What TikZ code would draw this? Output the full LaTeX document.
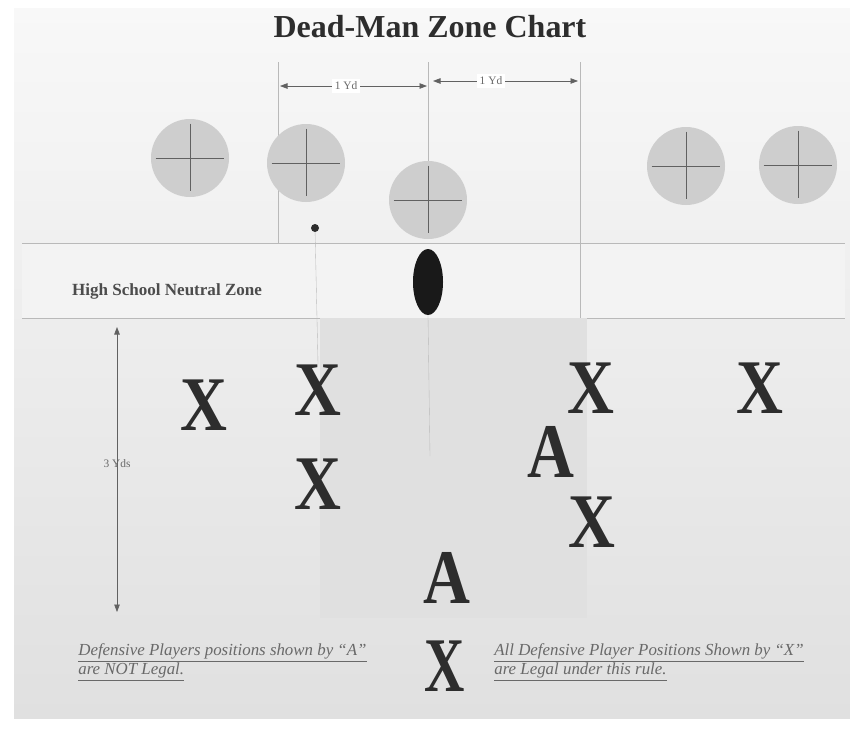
\documentclass[tikz,border=0pt]{standalone}
\usepackage{fontspec}
\setmainfont{Liberation Serif}
\usepackage{tikz}
\usetikzlibrary{arrows.meta,positioning,shapes.geometric}
\definecolor{dmtop}{RGB}{248,248,248}
\definecolor{dmbottom}{RGB}{224,224,224}
\definecolor{dmband}{RGB}{243,243,243}
\definecolor{dmzone}{RGB}{224,224,224}
\definecolor{dmcircle}{RGB}{206,206,206}
\definecolor{dmline}{RGB}{185,185,185}
\definecolor{dmink}{RGB}{45,45,45}
\definecolor{dmtext}{RGB}{105,105,105}

\tikzset{
  offman/.style={circle, fill=dmcircle, minimum size=15.6mm, inner sep=0pt},
  defx/.style={font=\fontsize{44}{44}\selectfont\bfseries, text=dmink, inner sep=0pt, xscale=0.84},
  dimarrow/.style={dmink!75, thin, {Triangle[length=1.5mm,width=1.1mm]}-{Triangle[length=1.5mm,width=1.1mm]}},
  dimlabel/.style={font=\fontsize{6.5}{7}\selectfont, text=dmtext, fill=white, inner sep=1.5pt},
  guide/.style={dmline, very thin},
  note/.style={font=\fontsize{9.6}{11}\selectfont\itshape, text=dmtext, align=left, anchor=north west, inner sep=0pt},
}

\begin{document}
\begin{tikzpicture}[x=0.2mm, y=-0.2mm]
  \useasboundingbox (0,0) rectangle (850,734);
  % Screen
  \fill[white] (0,0) rectangle (850,734);
  \shade[top color=dmtop, bottom color=dmbottom] (14,8) rectangle (850,718);

  % Title
  \node[font=\fontsize{18.2}{20}\selectfont\bfseries, text=dmink] (title) at (430,27) {Dead-Man Zone Chart};

  % Neutral zone and dead-man zone
  \fill[dmband] (22,243) rectangle (845,318);
  \draw[dmline, thin] (22,243) -- (845,243) (22,318) -- (845,318);
  \node[font=\fontsize{9.7}{11}\selectfont\bfseries, text=dmink!85] (nzlabel) at (167,291) {High School Neutral Zone};
  \fill[dmzone] (320,318) rectangle (587,618);

  % Guide lines
  \draw[guide] (278,62) -- (278,243);
  \draw[guide] (428,62) -- (428,162);
  \draw[guide] (580,62) -- (580,318);

  % Offensive linemen
  \foreach \n/\x/\y in {ol1/190/158, ol2/306/163, ol3/428/200, ol4/686/166, ol5/798/165} {
    \node[offman] (\n) at (\x,\y) {};
    \draw[dmink!75, thin] ([yshift=-1mm]\n.north) -- ([yshift=1.2mm]\n.south);
    \draw[dmink!75, thin] ([xshift=1mm]\n.west) -- ([xshift=-1mm]\n.east);
  }

  % Ball and end marker
  \node[ellipse, fill=black!90, minimum width=6mm, minimum height=13.2mm, inner sep=0pt] (ball) at (428,282) {};
  \node[circle, fill=dmink, minimum size=1.6mm, inner sep=0pt] (endmark) at (315,228) {};

  % Distances
  \coordinate (ydA) at (280,86);
  \coordinate (ydB) at (427,86);
  \coordinate (ydC) at (433,81);
  \coordinate (ydD) at (578,81);
  \draw[dimarrow] (ydA) -- node[dimlabel, pos=0.45] (yd1) {1 Yd} (ydB);
  \draw[dimarrow] (ydC) -- node[dimlabel, pos=0.4] (yd2) {1 Yd} (ydD);
  \coordinate (ydsTop) at (117,327);
  \coordinate (ydsBot) at (117,612);
  \draw[dimarrow] (ydsTop) -- node[dimlabel, fill=none, pos=0.48] (yds) {3 Yds} (ydsBot);

  % Defensive players
  \node[defx] (x1) at (204,405) {X};
  \node[defx] (x2) at (318,390) {X};
  \node[defx] (x3) at (591,388) {X};
  \node[defx] (x4) at (760,388) {X};
  \node[defx] (x5) at (318,484) {X};
  \node[defx] (x6) at (592,522) {X};
  \node[defx, xscale=0.86] (x7) at (445,666) {X};
  \node[defx] (a1) at (551,452) {A};
  \node[defx] (a2) at (447,578) {A};

  % Lines from ball and end marker
  \coordinate (ballEnd) at (430,456);
  \draw[guide] (ball.south) -- (ballEnd);
  \draw[guide] (endmark) -- (x2.north);

  % Notes
  \node[note] (illegal) at (78,643) {\underline{Defensive Players positions shown by ``A''}\\\underline{are NOT Legal.}};
  \node[note] (legal) at (494,643) {\underline{All Defensive Player Positions Shown by ``X''}\\\underline{are Legal under this rule.}};
\end{tikzpicture}
\end{document}
